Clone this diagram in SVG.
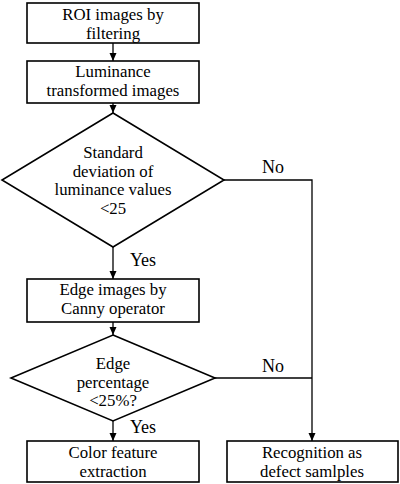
<svg xmlns="http://www.w3.org/2000/svg" width="400" height="484" viewBox="0 0 400 484">
<defs>
<marker id="ah" viewBox="0 0 8 10" refX="8" refY="5" markerWidth="8" markerHeight="10" markerUnits="userSpaceOnUse" orient="auto">
<path d="M0,1.5 L8,5 L0,8.5 z" fill="#000"/>
</marker>
</defs>
<style>
.n{fill:#fff;stroke:#000;stroke-width:1.6}
.t{font-family:'Liberation Serif','Times New Roman','DejaVu Serif',serif;font-size:16.8px;fill:#000;text-anchor:middle}
.l{font-size:18px}
.c{fill:none;stroke:#000;stroke-width:1.3}
</style>
<rect width="400" height="484" fill="#fff"/>
<g id="connectors">
<line class="c" x1="113" y1="43" x2="113" y2="61" marker-end="url(#ah)"/>
<line class="c" x1="113" y1="103" x2="113" y2="113" marker-end="url(#ah)"/>
<line class="c" x1="113" y1="247" x2="113" y2="279" marker-end="url(#ah)"/>
<line class="c" x1="113" y1="322" x2="113" y2="335" marker-end="url(#ah)"/>
<line class="c" x1="113" y1="421" x2="113" y2="441" marker-end="url(#ah)"/>
<polyline class="c" points="224,180 312,180 312,441" marker-end="url(#ah)"/>
<line class="c" x1="215" y1="378" x2="312" y2="378"/>
<text class="t l" x="273" y="173">No</text>
<text class="t l" x="273" y="372">No</text>
<text class="t l" x="143" y="266">Yes</text>
<text class="t l" x="143" y="433">Yes</text>
</g>
<g id="n1">
<rect class="n" x="27" y="3" width="172" height="40"/>
<text class="t" y="20"><tspan x="113">ROI images by</tspan><tspan x="113" dy="18.6">filtering</tspan></text>
</g>
<g id="n2">
<rect class="n" x="27" y="61" width="172" height="42"/>
<text class="t" y="77"><tspan x="113">Luminance</tspan><tspan x="113" dy="18.6">transformed images</tspan></text>
</g>
<g id="n3">
<polygon class="n" points="113,113 224,180 113,247 2,180"/>
<text class="t" y="158"><tspan x="113">Standard</tspan><tspan x="113" dy="18.6">deviation of</tspan><tspan x="113" dy="18.6">luminance values</tspan><tspan x="113" dy="18.6">&lt;25</tspan></text>
</g>
<g id="n4">
<rect class="n" x="27" y="279" width="172" height="43"/>
<text class="t" y="295"><tspan x="113">Edge images by</tspan><tspan x="113" dy="18.6">Canny operator</tspan></text>
</g>
<g id="n5">
<polygon class="n" points="113,335 215,378 113,421 11,378"/>
<text class="t" y="369"><tspan x="113">Edge</tspan><tspan x="113" dy="18.6">percentage</tspan><tspan x="113" dy="18.6">&lt;25%?</tspan></text>
</g>
<g id="n6">
<rect class="n" x="27" y="441" width="172" height="41"/>
<text class="t" y="458"><tspan x="113">Color feature</tspan><tspan x="113" dy="18.6">extraction</tspan></text>
</g>
<g id="n7">
<rect class="n" x="227" y="441" width="171" height="41"/>
<text class="t" y="458"><tspan x="312">Recognition as</tspan><tspan x="312" dy="18.6">defect samlples</tspan></text>
</g>
</svg>
